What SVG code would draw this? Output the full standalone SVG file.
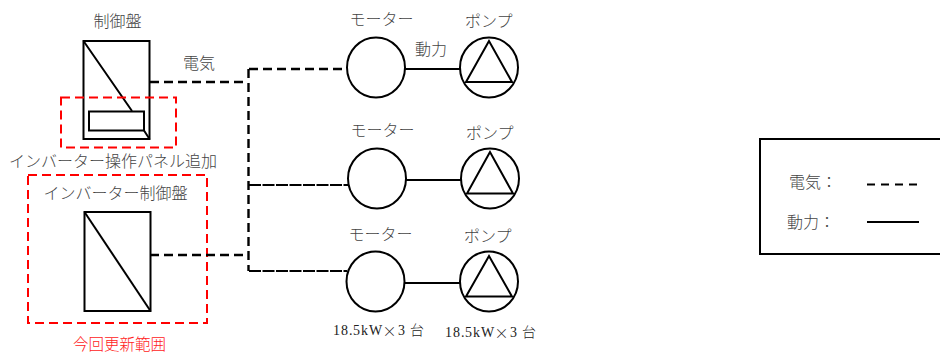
<svg xmlns="http://www.w3.org/2000/svg" width="940" height="354" viewBox="0 0 940 354">
<style>
text{font-family:"Noto Sans CJK JP","Liberation Serif",sans-serif;font-size:16px;fill:#444;font-weight:300;dominant-baseline:central}
.num{font-family:"Liberation Serif","Noto Sans CJK JP",serif;fill:#222;font-size:14px}
.cjk{font-family:"Noto Sans CJK JP",sans-serif;font-size:14px}
.red{fill:#f22;font-size:15.500px}
.s{fill:#fff;stroke:#000;stroke-width:2}
.n{fill:none;stroke:#000;stroke-width:2}
.e{fill:none;stroke:#000;stroke-width:2.400;stroke-dasharray:9 5}
.f{fill:none;stroke:#000;stroke-width:2.200;stroke-dasharray:12 1.500}
.r{fill:none;stroke:#f00;stroke-width:2;stroke-dasharray:9 5}
</style>
<rect width="940" height="354" fill="#fff"/>
<g id="panel">
<rect class="s" x="83.500" y="41" width="66" height="98"/>
<path class="n" d="M83.500 41L132 111M144 130.500L149.500 139"/>
<rect class="n" x="89" y="111.500" width="55" height="19"/>
<text x="93.500" y="20">制御盤</text>
</g>
<g id="panel-add">
<rect class="r" x="61" y="97.500" width="115" height="50"/>
<text x="9" y="160">インバーター操作パネル追加</text>
</g>
<g id="inverter">
<rect class="s" x="84.500" y="212" width="66" height="99"/>
<path class="n" d="M84.500 212L150.500 311"/>
<text x="43.500" y="192">インバーター制御盤</text>
</g>
<g id="scope">
<rect class="r" x="28" y="175" width="179" height="148"/>
<text class="red" x="73" y="342.500">今回更新範囲</text>
</g>
<g id="connectors">
<path class="e" d="M150 82H248M150 255H248M248.500 69V271M249 69H347"/>
<path class="f" d="M249 185H348M249 271H347"/>
<path class="n" d="M405 69H460M406 180H461M404 283H460"/>
</g>
<g id="motor1"><ellipse class="s" cx="376" cy="67.500" rx="29" ry="30"/><text x="349.500" y="18">モーター</text></g>
<g id="motor2"><ellipse class="s" cx="377" cy="178.500" rx="29" ry="30"/><text x="350.500" y="129">モーター</text></g>
<g id="motor3"><ellipse class="s" cx="375.500" cy="281.500" rx="29" ry="30"/><text x="348.500" y="233">モーター</text><text class="num" x="333 341 349 353 361 369 382.500 398 406 410" y="330">18.5kW<tspan class="cjk">×</tspan>3 台</text></g>
<g id="pump1"><ellipse class="s" cx="489" cy="67.500" rx="29" ry="30"/><path class="n" d="M489 41L466 82H512Z"/><text x="465" y="20">ポンプ</text></g>
<g id="pump2"><ellipse class="s" cx="490" cy="178.500" rx="29" ry="30"/><path class="n" d="M490 152L467 193.500H513Z"/><text x="466" y="132">ポンプ</text></g>
<g id="pump3"><ellipse class="s" cx="489" cy="281.500" rx="29" ry="30"/><path class="n" d="M489 256L466 296.500H512Z"/><text x="464" y="235">ポンプ</text><text class="num" x="445 453 461 465 473 481 494.500 510 518 522" y="332">18.5kW<tspan class="cjk">×</tspan>3 台</text></g>
<text x="183" y="62">電気</text>
<text x="415" y="48">動力</text>
<g id="legend">
<rect x="760" y="139" width="190" height="115" fill="none" stroke="#000" stroke-width="2"/>
<text x="789" y="181">電気：</text>
<text x="787" y="221">動力：</text>
<path d="M867 184.500H917" fill="none" stroke="#000" stroke-width="2" stroke-dasharray="8 6"/>
<path d="M867 222H919" fill="none" stroke="#000" stroke-width="2"/>
</g>
</svg>
